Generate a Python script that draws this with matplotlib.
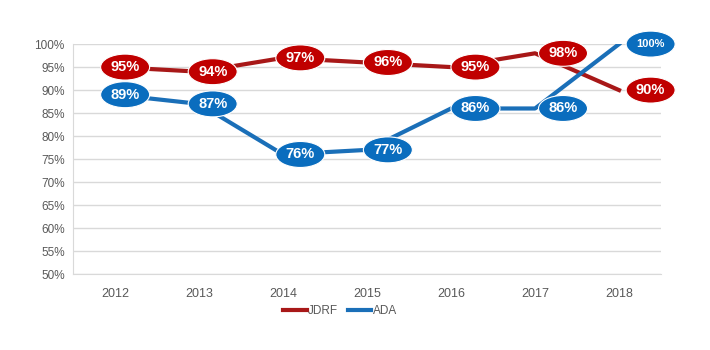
import matplotlib.pyplot as plt
from matplotlib.patches import Ellipse
from matplotlib.transforms import ScaledTranslation
import numpy as np

plt.rcParams['font.family'] = ['Liberation Sans', 'DejaVu Sans']

years = ['2012', '2013', '2014', '2015', '2016', '2017', '2018']
jdrf = [95, 94, 97, 96, 95, 98, 90]
ada = [89, 87, 76, 77, 86, 86, 100]

red_line = '#A81818'
red_fill = '#C00000'
blue_line = '#1A6FB8'
blue_fill = '#0A6DBE'

fig = plt.figure(figsize=(7.1, 3.5), dpi=100)
ax = fig.add_axes([0.103, 0.217, 0.828, 0.657])

x = np.arange(len(years))
ax.plot(x, jdrf, color=red_line, lw=3, label='JDRF', zorder=3)
ax.plot(x, ada, color=blue_line, lw=3, label='ADA', zorder=3)

ax.set_xlim(-0.5, 6.5)
ax.set_ylim(50, 100)
ax.set_yticks(range(50, 101, 5))
ax.set_yticklabels([f'{v}%' for v in range(50, 101, 5)])
ax.set_xticks(x)
ax.set_xticklabels(years)
ax.tick_params(length=0, colors='#595959', labelsize=8.5)
ax.tick_params(axis='x', pad=10, labelsize=9)
ax.tick_params(axis='y', pad=6)
ax.grid(axis='y', color='#D9D9D9', lw=1)
ax.set_axisbelow(True)
for s in ['top', 'right']:
    ax.spines[s].set_visible(False)
ax.spines['left'].set_color('#D9D9D9')
ax.spines['bottom'].set_color('#D9D9D9')


# data labels as ellipses, shifted a bit to the right like the original
def label(i, v, fc):
    dx = (10 + 3.6 * i) / 100  # inches
    tr = fig.dpi_scale_trans + ScaledTranslation(i, v, ax.transData)
    e = Ellipse((dx, 0), 0.49, 0.26, transform=tr, fc=fc, ec='white', lw=0.8,
                zorder=5, clip_on=False)
    ax.add_artist(e)
    e.set_clip_on(False)
    txt = f'{v}%'
    ax.annotate(txt, (i, v), xytext=(dx * 72, 0), textcoords='offset points',
                ha='center', va='center', color='white', fontweight='bold',
                fontsize=8 if len(txt) > 3 else 10.5, zorder=6, annotation_clip=False)


for i in range(len(years)):
    label(i, jdrf[i], red_fill)
    label(i, ada[i], blue_fill)

fig.legend(loc='center', bbox_to_anchor=(0.479, 0.111), ncol=2, frameon=False,
           fontsize=8.5, handlelength=2.0, handletextpad=0.1, columnspacing=0.8,
           labelcolor='#595959')

fig.savefig('out.png', dpi=100)
